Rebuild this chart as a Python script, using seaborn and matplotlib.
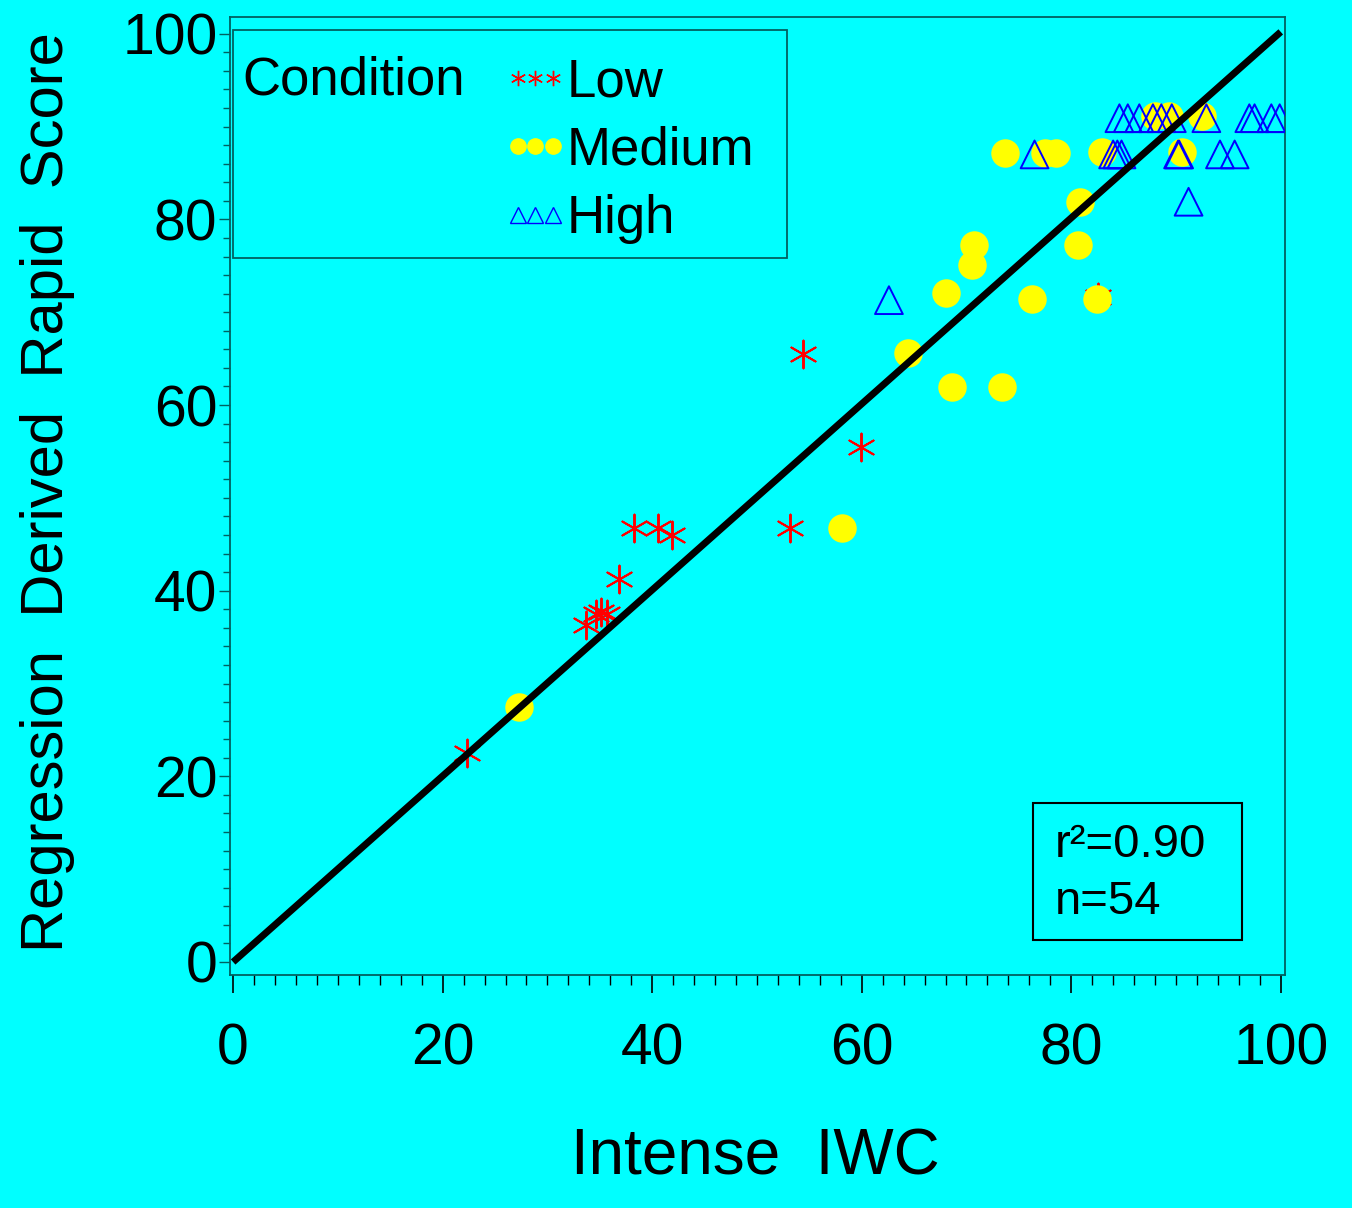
import numpy as np
import pandas as pd
import matplotlib
matplotlib.use("Agg")
import matplotlib.pyplot as plt
from matplotlib.lines import Line2D
from matplotlib.patches import Rectangle
from matplotlib.ticker import MultipleLocator
from matplotlib.legend_handler import HandlerLine2D
import seaborn as sns

# data
low_x = [22.3, 33.7, 34.6, 35.1, 35.7, 36.8, 38.3, 40.6, 41.9, 53.2, 54.4, 59.9, 82.6]
low_y = [22.5, 36.3, 37.5, 37.7, 37.5, 41.3, 46.7, 46.7, 46.0, 46.7, 65.5, 55.5, 71.6]

med_x = [27.3, 58.1, 64.4, 68.0, 68.6, 70.5, 70.7, 73.4, 73.7, 76.3, 77.5, 78.5,
         80.6, 80.8, 82.5, 82.9, 88.0, 89.3, 90.6, 92.5]
med_y = [27.5, 46.7, 65.6, 72.1, 61.9, 75.1, 77.2, 61.9, 87.2, 71.4, 87.2, 87.2,
         77.2, 81.9, 71.4, 87.3, 91.1, 91.1, 87.3, 91.1]

high_x = [62.6, 76.5, 84.0, 84.4, 84.6, 84.8, 85.4, 86.5, 87.8, 88.6, 89.6, 90.2,
          90.3, 91.2, 92.9, 94.2, 95.6, 97.0, 97.5, 99.1, 99.9]
high_y = [71.3, 87.0, 87.0, 87.0, 90.9, 87.0, 90.9, 90.9, 90.9, 90.9, 90.9, 87.0,
          87.0, 81.9, 90.9, 87.0, 87.0, 90.9, 90.9, 90.9, 90.9]

fit_x = [0, 100]
fit_y = [0.0, 100.2]

r2_text = "r\u00b2=0.90"
n_text = "n=54"
conditions = ["Low", "Medium", "High"]

bg = "#00FFFF"
frame_col = "#006060"

sns.set_style("ticks")
plt.rcParams["font.family"] = ["Liberation Sans", "DejaVu Sans"]
plt.rcParams["text.color"] = "black"
plt.rcParams["xtick.labelcolor"] = "black"
plt.rcParams["ytick.labelcolor"] = "black"

fig = plt.figure(figsize=(13.52, 12.08), dpi=100, facecolor=bg)
ax = fig.add_axes([0.1701, 0.1929, 0.7803, 0.7930])
ax.set_facecolor(bg)

low = pd.DataFrame({"x": low_x, "y": low_y})
med = pd.DataFrame({"x": med_x, "y": med_y})
high = pd.DataFrame({"x": high_x, "y": high_y})

sns.scatterplot(data=low, x="x", y="y", ax=ax, marker=(6, 2, 0), s=400,
                color="#FF0000", linewidth=1.4, legend=False, zorder=2)
sns.scatterplot(data=med, x="x", y="y", ax=ax, marker="o", s=420,
                color="#FFFF00", edgecolor="#FFFF00", linewidth=0, legend=False, zorder=3)
sns.scatterplot(data=high, x="x", y="y", ax=ax, marker="^", s=400,
                color="#0000FF", facecolor="none", edgecolor="#0000FF",
                linewidth=1.4, legend=False, zorder=4)
sns.lineplot(x=fit_x, y=fit_y, ax=ax, color="black", linewidth=5,
             solid_capstyle="butt", zorder=5)

ax.set_xlim(-0.3, 100.4)
ax.set_ylim(-1.4, 101.8)
ax.xaxis.set_major_locator(MultipleLocator(20))
ax.yaxis.set_major_locator(MultipleLocator(20))
ax.xaxis.set_minor_locator(MultipleLocator(2))
ax.yaxis.set_minor_locator(MultipleLocator(2))
ax.tick_params(axis="x", which="major", direction="out", length=13, width=1.2,
               color="black", labelcolor="black", pad=21, labelsize=41)
ax.tick_params(axis="x", which="minor", direction="out", length=7, width=1.0, color="black")
ax.tick_params(axis="y", which="major", direction="out", length=8, width=1.0,
               color=frame_col, labelcolor="black", pad=1, labelsize=41)
ax.tick_params(axis="y", which="minor", direction="out", length=5, width=1.0, color=frame_col)
for sp in ax.spines.values():
    sp.set_visible(True)
    sp.set_color(frame_col)
    sp.set_linewidth(1.3)
ax.set_xlabel("")
ax.set_ylabel("")

fig.text(0.559, 0.0414, "Intense  IWC", fontsize=46, ha="center", va="center",
         color="black")
fig.text(0.0355, 0.593, "Regression  Derived  Rapid  Score", fontsize=43,
         rotation=90, ha="center", va="center", color="black")

# legend box
ax.add_patch(Rectangle((0.003, 0.748), 0.525, 0.238, transform=ax.transAxes,
                       fill=False, edgecolor=frame_col, linewidth=1.3, zorder=6))
ax.text(0.012, 0.934, "Condition", transform=ax.transAxes, fontsize=38,
        ha="left", va="center", color="black", zorder=7)
handles = [
    Line2D([], [], linestyle="none", marker=(6, 2, 0), markersize=11,
           color="#FF0000", markeredgewidth=1.0),
    Line2D([], [], linestyle="none", marker="o", markersize=11,
           color="#FFFF00", markeredgecolor="#FFFF00"),
    Line2D([], [], linestyle="none", marker="^", markersize=11,
           markerfacecolor="none", markeredgecolor="#0000FF", markeredgewidth=1.0),
]
leg = ax.legend(handles, conditions, loc="upper left", bbox_to_anchor=(0.273, 0.958),
                numpoints=3, fontsize=38, frameon=False, handlelength=0.66,
                handletextpad=0.27, labelspacing=0.35, borderpad=0, borderaxespad=0,
                handler_map={Line2D: HandlerLine2D(marker_pad=0)})
for t in leg.get_texts():
    t.set_color("black")

# r^2 box
ax.add_patch(Rectangle((0.761, 0.0365), 0.198, 0.1435, transform=ax.transAxes,
                       fill=False, edgecolor="black", linewidth=1.5, zorder=6))
ax.text(0.782, 0.136, r2_text, transform=ax.transAxes, fontsize=34,
        ha="left", va="center", color="black", zorder=7)
ax.text(0.782, 0.076, n_text, transform=ax.transAxes, fontsize=34,
        ha="left", va="center", color="black", zorder=7)

fig.savefig("out.png", dpi=100, facecolor=bg)
